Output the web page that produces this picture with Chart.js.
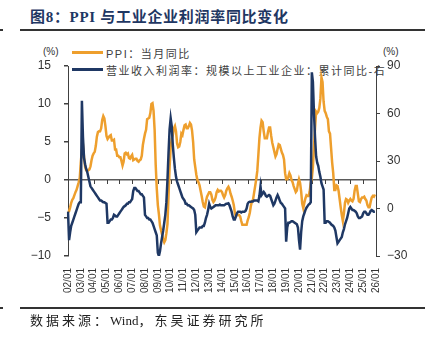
<!DOCTYPE html>
<html>
<head>
<meta charset="utf-8">
<script src="https://cdn.jsdelivr.net/npm/chart.js@4"></script>
<style>
  body {
    margin: 0;
    width: 425px;
    height: 340px;
    background: #fff;
    position: relative;
    overflow: hidden;
    font-family: "Liberation Sans", "Noto Sans CJK SC", sans-serif;
    color: #333;
  }
  .abs { position: absolute; white-space: nowrap; }
  .title {
    left: 30px; top: 5px;
    font: bold 15px "Liberation Serif", "Noto Sans CJK SC", serif;
    letter-spacing: 0.7px;
    color: #1f3763;
  }
  .rule { background: #333; height: 2px; }
  .unit { font-size: 10px; top: 46px; }
  .legend-text { font-size: 11px; letter-spacing: 1.5px; color: #404040; }
  .swatch { height: 3px; width: 31px; left: 72px; }
  .source {
    left: 30px; top: 310px;
    font: 13px "Liberation Serif", "Noto Sans CJK SC", serif;
    color: #222;
  }
  .source .cjk { letter-spacing: 3px; }
  #chart { position: absolute; left: 0; top: 0; }
</style>
</head>
<body>
<div class="abs title">图8：PPI 与工业企业利润率同比变化</div>
<div class="abs rule" style="left:0; top:29px; width:3px;"></div>
<div class="abs rule" style="left:20px; top:29px; width:405px;"></div>

<div class="abs unit" style="left:43px;">(%)</div>
<div class="abs unit" style="left:383px;">(%)</div>
<div class="abs swatch" style="top:51px; background:#ee9f2d;"></div>
<div class="abs legend-text" style="left:106px; top:45px;">PPI：当月同比</div>
<div class="abs swatch" style="top:68px; background:#1f3864;"></div>
<div class="abs legend-text" style="left:106px; top:62px;">营业收入利润率：规模以上工业企业：累计同比-右</div>

<canvas id="chart" width="425" height="340"></canvas>

<div class="abs rule" style="left:0; top:307px; width:3px;"></div>
<div class="abs rule" style="left:20px; top:307px; width:405px;"></div>
<div class="abs source"><span class="cjk">数据来源：</span>Wind<span class="cjk">，东吴证券研究所</span></div>

<script>
// monthly categories 02/01 ... 26/01
const months = [];
for (let yr = 2002; yr <= 2026; yr++) {
  for (let mo = 1; mo <= 12; mo++) {
    if (yr === 2026 && mo > 1) break;
    months.push(String(yr % 100).padStart(2, "0") + "/" + String(mo).padStart(2, "0"));
  }
}

// PPI: 当月同比 (%), 2002-01 .. 2025-12
const ppiYoy = [
  -4.2, -4.1, -3.6, -3.0, -2.6, -2.4, -2.0, -1.6, -1.3, -0.8, -0.3, 0.3,
  2.4, 4.0, 4.6, 3.0, 1.7, 1.3, 1.2, 1.3, 1.4, 1.8, 2.6, 3.2,
  3.5, 3.7, 4.5, 5.7, 6.3, 6.4, 6.4, 6.8, 7.9, 8.4, 8.1, 7.1,
  5.8, 5.4, 5.6, 5.8, 5.9, 5.2, 5.2, 5.3, 4.0, 4.0, 3.2, 3.2,
  3.0, 3.0, 2.5, 1.9, 2.4, 3.5, 3.6, 3.4, 3.5, 2.9, 2.8, 3.1,
  3.3, 2.6, 2.7, 2.8, 2.8, 2.5, 2.4, 2.6, 2.7, 3.2, 4.6, 5.4,
  6.1, 6.6, 8.0, 8.1, 8.2, 8.8, 10.0, 10.1, 9.1, 6.6, 2.0, -1.1,
  -3.3, -4.5, -6.0, -6.6, -7.2, -7.8, -8.2, -7.9, -7.0, -5.8, -2.1, 1.7,
  4.3, 5.4, 5.9, 6.8, 7.1, 6.4, 4.8, 4.3, 4.4, 5.0, 6.1, 5.9,
  6.6, 7.2, 7.3, 6.8, 6.8, 7.1, 7.5, 7.3, 6.5, 5.0, 2.7, 1.7,
  0.7, 0.0, -0.3, -0.7, -1.4, -2.1, -2.9, -3.5, -3.6, -2.8, -2.2, -1.9,
  -1.6, -1.6, -1.9, -2.6, -2.9, -2.7, -2.3, -1.6, -1.3, -1.5, -1.4, -1.4,
  -1.6, -2.0, -2.3, -2.0, -1.4, -1.1, -0.9, -1.2, -1.8, -2.2, -2.7, -3.3,
  -4.3, -4.8, -4.6, -4.6, -4.6, -4.8, -5.4, -5.9, -5.9, -5.9, -5.9, -5.9,
  -5.3, -4.9, -4.3, -3.4, -2.8, -2.6, -1.7, -0.8, 0.1, 1.2, 3.3, 5.5,
  6.9, 7.8, 7.6, 6.4, 5.5, 5.5, 5.5, 6.3, 6.9, 6.9, 5.8, 4.9,
  4.3, 3.7, 3.1, 3.4, 4.1, 4.7, 4.6, 4.1, 3.6, 3.3, 2.7, 0.9,
  0.1, 0.1, 0.4, 0.9, 0.6, 0.0, -0.3, -0.8, -1.2, -1.6, -1.4, -0.5,
  0.1, -0.4, -1.5, -3.1, -3.7, -3.0, -2.4, -2.0, -2.1, -2.1, -1.5, -0.4,
  0.3, 1.7, 4.4, 6.8, 9.0, 8.8, 9.0, 9.5, 10.7, 13.5, 12.9, 10.3,
  9.1, 8.8, 8.3, 8.0, 6.4, 6.1, 4.2, 2.3, 0.9, -1.3, -1.3, -0.7,
  -0.8, -1.4, -2.5, -3.6, -4.6, -5.4, -4.4, -3.0, -2.5, -2.6, -3.0, -2.7,
  -2.5, -2.7, -2.8, -2.5, -1.4, -0.8, -0.8, -1.8, -2.8, -2.9, -2.5, -2.3,
  -2.3, -2.2, -2.5, -2.7, -3.3, -3.6, -3.6, -2.9, -2.3, -2.1, -2.2, -1.9,
];

// 营业收入利润率：规模以上工业企业：累计同比 (%), right axis
const marginYoy = [
  -2, -20, -15, -11, -9, -7, -5, -3, -1, 1, 3, 4,
  4, 68, 45, 32, 28, 25, 23, 20, 17, 14, 13, 12,
  11, 10, 9, 8, 7, 6, 5, 5, 4.5, 4, 4, 3.5,
  3, -9, -9, -8, -7, -7, -6, -4, -4.5, -5, -5, -4,
  -3, -2, -1, 0, 1, 1.5, 2, 3, 3, 4, 4, 5,
  6, 11, 13, 13, 12, 11, 11, 10, 9, 9, 8, 7,
  -4, -5, -6, -6, -7, -7, -8, -9, -11, -13, -15, -17,
  -28, -30, -27, -22, -18, -14, -9, -4, 4, 18, 35, 50,
  57, 52, 40, 32, 25, 20, 17, 15, 13, 11, 9, 7,
  6, 5, 3, 3, 2, 2, 1.5, 1, 0.5, 0, -1, -4,
  -15, -14, -13, -12, -12, -12, -11, -11, -9, -6, -4, -1,
  3, 1, 0, 0.5, 1, 1.5, 2, 2, 2, 2, 2.5, 2,
  2, 2, 2, 2.5, 3, 3, 3.3, 2, 0, -2, -5, -7,
  -7, -5, -3, -2, -2, -2, -2.5, -2, -2, -2, -1.5, 0,
  3, 4, 4.3, 4.3, 4.5, 4.5, 5, 5, 5, 5, 4.5, 8,
  14, 8.5, 9.5, 10.5, 9.5, 8, 7.5, 8, 8.5, 8, 6, 4,
  2, 3, 5, 7, 8.5, 7, 5, 3.5, 3, 2, 1, 0,
  -21, -12, -9, -9, -8.5, -8, -8, -8.5, -9, -9.5, -10, -12,
  -20, -26, -15, -8, -5, -3, -1, 0.5, 1.5, 2.5, 3, 4,
  86, 80, 60, 45, 33, 29, 27, 23, 20, 16, 14, 12,
  -9, -9, -8, -8, -8.5, -9, -10, -10.5, -11, -12, -14, -18,
  -22, -21, -20, -19, -18, -15, -13, -10, -8, -6, -3, 0,
  1, 0, -1, -1, -1.5, -2, -3, -5, -6, -6, -5.5, -5,
  -3, -2, -2, -3, -4, -4, -3, -1.5, -1, -1.5, -2, -2,
];

const leftRange = [-10, 15, 5];
const rightRange = [-30, 90, 30];

const minus = (v) => (v < 0 ? "\u2212" + Math.abs(v) : String(v));

// small year ticks hanging under the zero line
const zeroTicks = {
  id: "zeroTicks",
  beforeDatasetsDraw(chart) {
    const { ctx, scales } = chart;
    const y0 = scales.y.getPixelForValue(0);
    ctx.save();
    ctx.strokeStyle = "#404040";
    ctx.lineWidth = 1;
    months.forEach((m, i) => {
      if (!m.endsWith("/01")) return;
      const px = Math.round(scales.x.getPixelForValue(i)) + 0.5;
      ctx.beginPath();
      ctx.moveTo(px, y0);
      ctx.lineTo(px, y0 + 4);
      ctx.stroke();
    });
    ctx.restore();
  },
};

new Chart(document.getElementById("chart"), {
  type: "line",
  plugins: [zeroTicks],
  data: {
    labels: months,
    datasets: [
      {
        label: "营业收入利润率：规模以上工业企业：累计同比-右",
        data: marginYoy,
        yAxisID: "y2",
        borderColor: "#1f3864",
        borderWidth: 2.5,
        pointRadius: 0,
        order: 0,
      },
      {
        label: "PPI：当月同比",
        data: ppiYoy,
        yAxisID: "y",
        borderColor: "#ee9f2d",
        borderWidth: 2.5,
        pointRadius: 0,
        order: 1,
      },
    ],
  },
  options: {
    responsive: false,
    animation: false,
    devicePixelRatio: 1,
    layout: { padding: { top: 66, left: 0, right: 0, bottom: 0 } },
    plugins: {
      legend: { display: false },
      tooltip: { enabled: false },
    },
    scales: {
      x: {
        type: "category",
        offset: false,
        grid: { display: false, drawTicks: false },
        border: { display: false },
        ticks: {
          autoSkip: false,
          minRotation: 90,
          maxRotation: 90,
          padding: 12,
          color: "#333",
          font: { size: 10, family: "Liberation Sans" },
          callback: (v, i) => (months[i].endsWith("/01") ? months[i] : ""),
        },
        afterFit: (scale) => {
          scale.height = 84;
        },
      },
      y: {
        position: "left",
        min: leftRange[0],
        max: leftRange[1],
        ticks: {
          stepSize: leftRange[2],
          padding: 13,
          color: "#333",
          font: { size: 12, family: "Liberation Sans" },
          callback: minus,
        },
        grid: {
          color: (c) => (c.tick && c.tick.value === 0 ? "#5a5a5a" : "transparent"),
          lineWidth: 1.5,
          tickColor: "#404040",
          tickLength: 4,
        },
        border: { color: "#404040", width: 1 },
        afterFit: (scale) => {
          scale.width = 68;
        },
      },
      y2: {
        position: "right",
        min: rightRange[0],
        max: rightRange[1],
        ticks: {
          stepSize: rightRange[2],
          padding: 7,
          color: "#333",
          font: { size: 12, family: "Liberation Sans" },
          callback: minus,
        },
        grid: {
          drawOnChartArea: false,
          tickColor: "#404040",
          tickLength: 4,
        },
        border: { color: "#404040", width: 1 },
        afterFit: (scale) => {
          scale.width = 49;
        },
      },
    },
  },
});
</script>
</body>
</html>
